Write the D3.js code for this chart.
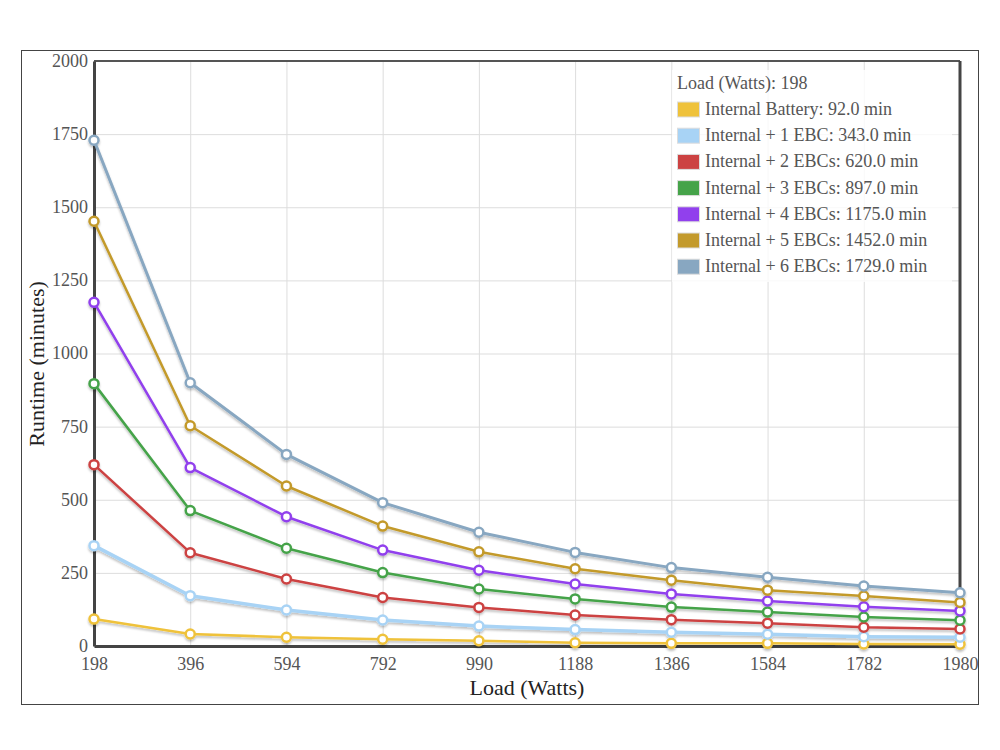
<!DOCTYPE html>
<html>
<head>
<meta charset="utf-8">
<script src="https://cdn.jsdelivr.net/npm/d3@7"></script>
<style>
	body { margin: 0; background: #fff; }
	svg { font-family: "Liberation Serif", "DejaVu Serif", serif; }
	.grid line { stroke: #ddd; stroke-width: 1; }
</style>
</head>
<body>
<svg id="chart" width="1000" height="750"></svg>
<script>
// Data ======================================================================
var loads = [198, 396, 594, 792, 990, 1188, 1386, 1584, 1782, 1980];
var seriesNames = [
	"Internal Battery",
	"Internal + 1 EBC",
	"Internal + 2 EBCs",
	"Internal + 3 EBCs",
	"Internal + 4 EBCs",
	"Internal + 5 EBCs",
	"Internal + 6 EBCs"
];
var internalOnly = [92, 41, 30, 23, 18, 11, 9, 9, 7, 6];
var plus1 = [343, 172, 123, 89, 68, 56, 47, 40, 32, 30];
var plus2 = [620, 319, 229, 166, 132, 106, 90, 78, 64, 58];
var plus3 = [897, 463, 334, 251, 195, 161, 133, 116, 99, 88];
var plus4 = [1175, 610, 442, 328, 259, 212, 178, 154, 134, 120];
var plus5 = [1452, 753, 547, 410, 322, 264, 225, 191, 171, 149];
var plus6 = [1729, 900, 655, 490, 389, 320, 268, 235, 205, 182];
var yTicks = [0, 250, 500, 750, 1000, 1250, 1500, 1750, 2000];
var hoverLoad = 198;

var allSeries = [internalOnly, plus1, plus2, plus3, plus4, plus5, plus6];
var colors = ["#efc23b", "#a8d3f5", "#cc4242", "#45a349", "#9140ed", "#c39a2c", "#88a7c1"];
var widths = [2.5, 3.5, 2.5, 2.5, 2.5, 2.5, 3];

// Layout ====================================================================
var frame = { x: 21, y: 50, w: 957, h: 654 };
var plot = { left: 94, right: 960, top: 61, bottom: 646 };
var fontFamily = "'Liberation Serif', 'DejaVu Serif', serif";

var svg = d3.select("#chart");

var defs = svg.append("defs");
var shadow = defs.append("filter")
	.attr("id", "shadow")
	.attr("x", "-10%").attr("y", "-10%")
	.attr("width", "120%").attr("height", "130%");
shadow.append("feDropShadow")
	.attr("dx", 0).attr("dy", 2)
	.attr("stdDeviation", 1.2)
	.attr("flood-color", "#000")
	.attr("flood-opacity", 0.25);

svg.append("rect")
	.attr("x", frame.x + 0.5).attr("y", frame.y + 0.5)
	.attr("width", frame.w).attr("height", frame.h)
	.attr("fill", "#fff")
	.attr("stroke", "#444")
	.attr("stroke-width", 1);

// Scales ====================================================================
var xScale = d3.scalePoint()
	.domain(loads)
	.range([plot.left, plot.right]);

var yScale = d3.scaleLinear()
	.domain([0, 2000])
	.range([plot.bottom, plot.top]);

// Grid ======================================================================
svg.append("g")
	.attr("class", "grid")
	.attr("transform", "translate(0," + plot.bottom + ")")
	.call(d3.axisBottom(xScale).tickSize(-(plot.bottom - plot.top)).tickFormat(""))
	.call(function(g) { g.select(".domain").remove(); });

svg.append("g")
	.attr("class", "grid")
	.attr("transform", "translate(" + plot.left + ",0)")
	.call(d3.axisLeft(yScale).tickValues(yTicks).tickSize(-(plot.right - plot.left)).tickFormat(""))
	.call(function(g) { g.select(".domain").remove(); });

// Plot border
svg.append("line")
	.attr("x1", plot.left).attr("x2", plot.right)
	.attr("y1", plot.top).attr("y2", plot.top)
	.attr("stroke", "#555").attr("stroke-width", 2);
svg.append("line")
	.attr("x1", plot.right).attr("x2", plot.right)
	.attr("y1", plot.top).attr("y2", plot.bottom)
	.attr("stroke", "#444").attr("stroke-width", 3);

// Axes ======================================================================
var xAxis = svg.append("g")
	.attr("transform", "translate(0," + plot.bottom + ")")
	.call(d3.axisBottom(xScale).tickSize(0).tickPadding(11));
xAxis.attr("font-family", fontFamily).attr("font-size", 18);
xAxis.selectAll(".tick text").attr("fill", "#555");
xAxis.select(".domain").attr("stroke", "#444").attr("stroke-width", 3);

var yAxis = svg.append("g")
	.attr("transform", "translate(" + plot.left + ",0)")
	.call(d3.axisLeft(yScale).tickValues(yTicks).tickSize(0).tickPadding(6).tickFormat(d3.format("d")));
yAxis.attr("font-family", fontFamily).attr("font-size", 18);
yAxis.selectAll(".tick text").attr("fill", "#555").attr("dy", "0.3em");
yAxis.select(".domain").attr("stroke", "#444").attr("stroke-width", 3);

svg.append("text")
	.attr("x", (plot.left + plot.right) / 2)
	.attr("y", 695)
	.attr("text-anchor", "middle")
	.attr("font-size", 22)
	.attr("fill", "#222")
	.text("Load (Watts)");

svg.append("text")
	.attr("transform", "translate(44,364) rotate(-90)")
	.attr("text-anchor", "middle")
	.attr("font-size", 22)
	.attr("fill", "#222")
	.text("Runtime (minutes)");

// Lines =====================================================================
var line = d3.line()
	.x(function(d, i) { return xScale(loads[i]); })
	.y(function(d) { return yScale(d); });

var seriesG = svg.append("g").attr("filter", "url(#shadow)");

allSeries.forEach(function(values, s) {
	var g = seriesG.append("g");
	g.append("path")
		.datum(values)
		.attr("fill", "none")
		.attr("stroke", colors[s])
		.attr("stroke-width", widths[s])
		.attr("stroke-linejoin", "round")
		.attr("d", line);
	g.selectAll("circle")
		.data(values)
		.enter()
		.append("circle")
		.attr("cx", function(d, i) { return xScale(loads[i]); })
		.attr("cy", function(d) { return yScale(d); })
		.attr("r", 4.5)
		.attr("fill", "#fff")
		.attr("stroke", colors[s])
		.attr("stroke-width", 2.5);
});

// Legend ====================================================================
var legend = svg.append("g").attr("transform", "translate(672,70)");
legend.append("rect")
	.attr("width", 280).attr("height", 212)
	.attr("fill", "rgba(255,255,255,0.8)");

legend.append("text")
	.attr("x", 5).attr("y", 19)
	.attr("font-size", 18)
	.attr("fill", "#555")
	.text("Load (Watts): " + hoverLoad);

var hoverIndex = loads.indexOf(hoverLoad);
var items = legend.selectAll("g.item")
	.data(seriesNames)
	.enter()
	.append("g")
	.attr("class", "item")
	.attr("transform", function(d, i) { return "translate(5," + (39.5 + i * 26.2) + ")"; });

items.append("rect")
	.attr("x", 0.5).attr("y", -7.5)
	.attr("width", 22).attr("height", 15)
	.attr("fill", function(d, i) { return colors[i]; })
	.attr("stroke", "#ddd")
	.attr("stroke-width", 1);

items.append("text")
	.attr("x", 28).attr("y", 5.5)
	.attr("font-size", 18)
	.attr("fill", "#555")
	.text(function(d, i) { return d + ": " + allSeries[i][hoverIndex].toFixed(1) + " min"; });
</script>
</body>
</html>
